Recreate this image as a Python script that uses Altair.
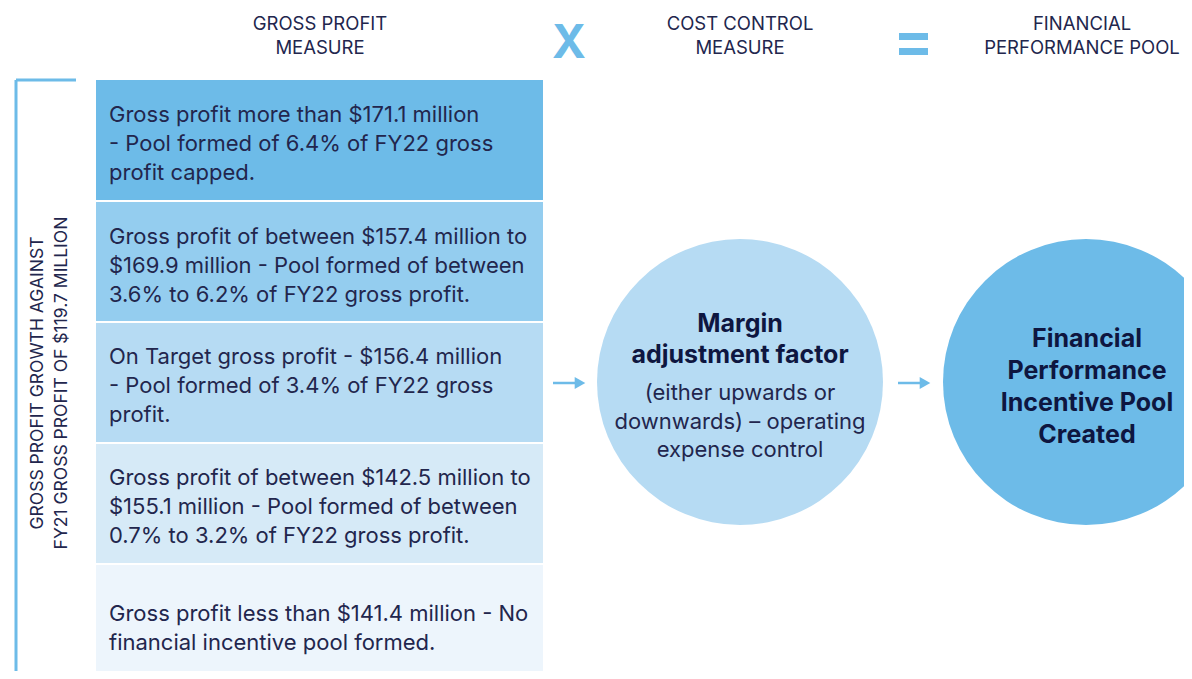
import altair as alt
import pandas as pd

# ---------------- content ----------------
headers = ["GROSS PROFIT\nMEASURE", "COST CONTROL\nMEASURE", "FINANCIAL\nPERFORMANCE POOL"]
operators = ["X", "="]
side_label = "GROSS PROFIT GROWTH AGAINST\nFY21 GROSS PROFIT OF $119.7 MILLION"
tiers = [
    "Gross profit more than $171.1 million\n- Pool formed of 6.4% of FY22 gross\nprofit capped.",
    "Gross profit of between $157.4 million to\n$169.9 million - Pool formed of between\n3.6% to 6.2% of FY22 gross profit.",
    "On Target gross profit - $156.4 million\n- Pool formed of 3.4% of FY22 gross\nprofit.",
    "Gross profit of between $142.5 million to\n$155.1 million - Pool formed of between\n0.7% to 3.2% of FY22 gross profit.",
    "Gross profit less than $141.4 million - No\nfinancial incentive pool formed.",
]
tier_colors = ["#6dbbe8", "#94cdef", "#b6dbf3", "#d6eaf7", "#edf5fc"]
margin_title = "Margin\nadjustment factor"
margin_body = "(either upwards or\ndownwards) \u2013 operating\nexpense control"
pool_title = "Financial\nPerformance\nIncentive Pool\nCreated"
circle_colors = ["#b6dbf3", "#6dbbe8"]

# ---------------- layout (image pixel coordinates) ----------------
W, H = 1176, 663
xs = alt.Scale(domain=[8, 8 + W], nice=False, zero=False)
ys = alt.Scale(domain=[8 + H, 8], nice=False, zero=False)
X = lambda f: alt.X(f, type="quantitative", scale=xs, axis=None)
Y = lambda f: alt.Y(f, type="quantitative", scale=ys, axis=None)

BLUE = "#6dbbe8"
NAVY = "#22264d"
DARK = "#0e1640"
FONT = "Inter"

row_top = [80, 202, 323, 444, 565]
row_bot = [200, 321, 442, 563, 690]
rows = pd.DataFrame({
    "x0": [96] * 5, "x1": [543] * 5,
    "y0": row_top, "y1": row_bot,
    "c": tier_colors, "t": tiers,
    "ty": [115, 237, 357, 478, 614], "tx": [109] * 5,
})

boxes = alt.Chart(rows).mark_rect().encode(
    x=X("x0"), x2="x1", y=Y("y0"), y2="y1",
    color=alt.Color("c:N", scale=None))
box_text = alt.Chart(rows).mark_text(
    align="left", baseline="middle", font=FONT, fontSize=22,
    lineBreak="\n", lineHeight=29, color=NAVY).encode(
    x=X("tx"), y=Y("ty"), text="t:N")

hdr = pd.DataFrame({"t": headers, "x": [320, 740, 1082], "y": [24, 24, 24]})
hdr_text = alt.Chart(hdr).mark_text(
    align="center", baseline="middle", font=FONT, fontSize=18.5,
    lineBreak="\n", lineHeight=24, color=NAVY).encode(
    x=X("x"), y=Y("y"), text="t:N")

opX = pd.DataFrame({"t": [operators[0]], "x": [569], "y": [44]})
op_x = alt.Chart(opX).mark_text(
    align="center", baseline="middle", font=FONT, fontSize=46,
    fontWeight="bold", color=BLUE).encode(x=X("x"), y=Y("y"), text="t:N")

eq = pd.DataFrame({"x0": [899, 899], "x1": [928, 928], "y0": [33, 48], "y1": [40, 55]})
op_eq = alt.Chart(eq).mark_rect(color=BLUE).encode(
    x=X("x0"), x2="x1", y=Y("y0"), y2="y1")

# bracket
br = pd.DataFrame({"x0": [16, 16], "x1": [16, 76], "y0": [80, 80], "y1": [690, 80]})
bracket = alt.Chart(br).mark_rule(color=BLUE, strokeWidth=3).encode(
    x=X("x0"), x2="x1", y=Y("y0"), y2="y1")

side = pd.DataFrame({"t": [side_label], "x": [38], "y": [383]})
side_text = alt.Chart(side).mark_text(
    align="center", baseline="middle", font=FONT, fontSize=17.5, angle=270,
    lineBreak="\n", lineHeight=24, color=NAVY).encode(
    x=X("x"), y=Y("y"), text="t:N")

# arrows
ar = pd.DataFrame({"x0": [553, 898], "x1": [578, 923], "y": [383, 383], "hx": [580, 925]})
arrow_lines = alt.Chart(ar).mark_rule(color=BLUE, strokeWidth=2.5).encode(
    x=X("x0"), x2="x1", y=Y("y"))
arrow_heads = alt.Chart(ar).mark_point(
    shape="triangle-right", filled=True, color=BLUE, opacity=1, size=150).encode(
    x=X("hx"), y=Y("y"))

# circles
circ = pd.DataFrame({"x": [740, 1086], "y": [382, 382], "c": circle_colors})
circles = alt.Chart(circ).mark_point(
    shape="circle", filled=True, opacity=1, size=286 * 286).encode(
    x=X("x"), y=Y("y"), color=alt.Color("c:N", scale=None))

c1b = pd.DataFrame({"t": [margin_title], "x": [740], "y": [324]})
c1_bold = alt.Chart(c1b).mark_text(
    align="center", baseline="middle", font=FONT, fontSize=25, fontWeight="bold",
    lineBreak="\n", lineHeight=31, color=DARK).encode(x=X("x"), y=Y("y"), text="t:N")
c1r = pd.DataFrame({"t": [margin_body], "x": [740], "y": [393]})
c1_reg = alt.Chart(c1r).mark_text(
    align="center", baseline="middle", font=FONT, fontSize=22,
    lineBreak="\n", lineHeight=28.5, color=NAVY).encode(x=X("x"), y=Y("y"), text="t:N")
c2 = pd.DataFrame({"t": [pool_title], "x": [1087], "y": [339]})
c2_bold = alt.Chart(c2).mark_text(
    align="center", baseline="middle", font=FONT, fontSize=25, fontWeight="bold",
    lineBreak="\n", lineHeight=32, color=DARK).encode(x=X("x"), y=Y("y"), text="t:N")

chart = alt.layer(
    boxes, box_text, hdr_text, op_x, op_eq, bracket, side_text,
    arrow_lines, arrow_heads, circles, c1_bold, c1_reg, c2_bold,
).properties(width=W, height=H, padding=0, autosize=alt.AutoSizeParams(type="none")
).configure(background="white", view=alt.ViewConfig(stroke=None))

chart.save("out.html", embed_options={"renderer": "svg", "actions": False})
